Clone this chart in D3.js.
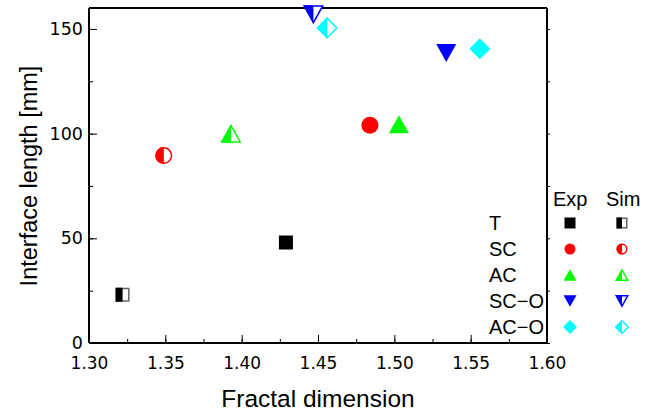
<!DOCTYPE html>
<html>
<head>
<meta charset="utf-8">
<script src="https://cdn.jsdelivr.net/npm/d3@7"></script>
<style>
  body { margin: 0; background: #fff; }
  svg { font-family: "Liberation Sans", Arial, sans-serif; }
  .axis path, .axis line { stroke: #000; }
  .axis text { font-family: "DejaVu Sans", sans-serif; }
</style>
</head>
<body>
<div id="chart"></div>
<script>
// data
var groups = ["T", "SC", "AC", "SC\u2212O", "AC\u2212O"];
var colors = ["#000000", "#ff0000", "#00ff00", "#0000ff", "#00ffff"];
var shapes = ["square", "circle", "triangle", "down", "diamond"];
var expX = [1.429, 1.484, 1.503, 1.534, 1.556];
var expY = [48, 104, 104.5, 138.5, 140.5];
var simX = [1.322, 1.349, 1.393, 1.447, 1.456];
var simY = [23, 89.5, 100, 157, 150.5];
var xTicks = [1.30, 1.35, 1.40, 1.45, 1.50, 1.55, 1.60];
var yTicks = [0, 50, 100, 150];

var svg = d3.select("#chart").append("svg").attr("width", 645).attr("height", 414),
    margin = {top: 8, right: 98, bottom: 71, left: 89},
    width = 645 - margin.left - margin.right,
    height = 414 - margin.top - margin.bottom,
    g = svg.append("g").attr("transform", "translate(" + margin.left + "," + margin.top + ")");

var x = d3.scaleLinear().domain([1.30, 1.60]).range([0, width]);
var y = d3.scaleLinear().domain([0, 160]).range([height, 0]);

// marker outline shapes, centred on 0,0
function shapePath(kind, s) {
    var h = s / 2;
    if (kind === "square") return "M" + (-h) + "," + (-h) + "H" + h + "V" + h + "H" + (-h) + "Z";
    if (kind === "circle") return "M" + (-h) + ",0A" + h + "," + h + " 0 1,1 " + h + ",0A" + h + "," + h + " 0 1,1 " + (-h) + ",0Z";
    if (kind === "triangle") { var t = s * 0.9; return "M0," + (-t / 2) + "L" + h + "," + (t / 2) + "L" + (-h) + "," + (t / 2) + "Z"; }
    if (kind === "down") { var t2 = s * 0.9; return "M0," + (t2 / 2) + "L" + h + "," + (-t2 / 2) + "L" + (-h) + "," + (-t2 / 2) + "Z"; }
    if (kind === "diamond") return "M0," + (-h) + "L" + h + ",0L0," + h + "L" + (-h) + ",0Z";
}
var sizes = {square: 14, circle: 17, triangle: 20, down: 20, diamond: 21};

svg.append("defs").append("clipPath").attr("id", "lefthalf")
    .append("rect").attr("x", -30).attr("y", -30).attr("width", 30).attr("height", 60);

function drawMarker(sel, kind, color, s, half) {
    if (!half) {
        sel.append("path").attr("d", shapePath(kind, s)).attr("fill", color);
        return;
    }
    sel.append("path").attr("d", shapePath(kind, s - 1.5)).attr("fill", "#fff")
        .attr("stroke", kind === "square" ? "#666" : color).attr("stroke-width", 1.5);
    sel.append("path").attr("d", shapePath(kind, s)).attr("fill", color)
        .attr("clip-path", "url(#lefthalf)");
}

// axes
function minorTicks(a, b, step) { return d3.range(a, b + step / 2, step); }

g.append("g").attr("class", "axis")
    .attr("transform", "translate(0," + height + ")")
    .call(d3.axisBottom(x).tickValues(minorTicks(1.30, 1.60, 0.025)).tickSize(-4).tickFormat(""))
    .call(function (a) { a.select(".domain").remove(); });
g.append("g").attr("class", "axis")
    .attr("transform", "translate(0," + height + ")")
    .call(d3.axisBottom(x).tickValues(xTicks).tickSize(-8).tickPadding(14).tickFormat(d3.format(".2f")))
    .call(function (a) {
        a.select(".domain").attr("stroke-width", 2).attr("d", "M0,0H" + width);
        a.selectAll("text").attr("font-size", 17).attr("fill", "#000");
    });

g.append("g").attr("class", "axis")
    .call(d3.axisLeft(y).tickValues(minorTicks(0, 150, 25)).tickSize(-4).tickFormat(""))
    .call(function (a) { a.select(".domain").remove(); });
g.append("g").attr("class", "axis")
    .call(d3.axisLeft(y).tickValues(yTicks).tickSize(-8).tickPadding(6))
    .call(function (a) {
        a.select(".domain").attr("stroke-width", 2).attr("d", "M0,0V" + height);
        a.selectAll("text").attr("font-size", 17.5).attr("fill", "#000");
    });

g.append("g").attr("class", "axis")
    .attr("transform", "translate(" + width + ",0)")
    .call(d3.axisRight(y).tickValues(minorTicks(0, 150, 25)).tickSize(3).tickFormat(""))
    .call(function (a) { a.select(".domain").attr("stroke-width", 2).attr("d", "M0,0V" + height); });

g.append("line").attr("x1", 0).attr("x2", width).attr("y1", 0).attr("y2", 0)
    .attr("stroke", "#000").attr("stroke-width", 2);

// axis titles
svg.append("text")
    .attr("x", 318).attr("y", 407)
    .attr("text-anchor", "middle").attr("font-size", 24.5)
    .text("Fractal dimension");
svg.append("text")
    .attr("transform", "translate(37,176) rotate(-90)")
    .attr("text-anchor", "middle").attr("font-size", 23.5)
    .text("Interface length [mm]");

// points
groups.forEach(function (name, i) {
    drawMarker(g.append("g").attr("transform", "translate(" + x(simX[i]) + "," + y(simY[i]) + ")"),
        shapes[i], colors[i], sizes[shapes[i]], true);
    drawMarker(g.append("g").attr("transform", "translate(" + x(expX[i]) + "," + y(expY[i]) + ")"),
        shapes[i], colors[i], sizes[shapes[i]], false);
});

// legend
var leg = svg.append("g");
leg.append("text").attr("x", 553).attr("y", 206).attr("font-size", 20).text("Exp");
leg.append("text").attr("x", 606).attr("y", 206).attr("font-size", 20).text("Sim");
var legSizes = {square: 11, circle: 11, triangle: 13, down: 13, diamond: 14};
groups.forEach(function (name, i) {
    var ry = 223 + i * 26;
    leg.append("text").attr("x", 489).attr("y", ry + 7).attr("font-size", 20).text(name);
    drawMarker(leg.append("g").attr("transform", "translate(570," + ry + ")"), shapes[i], colors[i], legSizes[shapes[i]], false);
    drawMarker(leg.append("g").attr("transform", "translate(622," + ry + ")"), shapes[i], colors[i], legSizes[shapes[i]], true);
});
</script>
</body>
</html>
